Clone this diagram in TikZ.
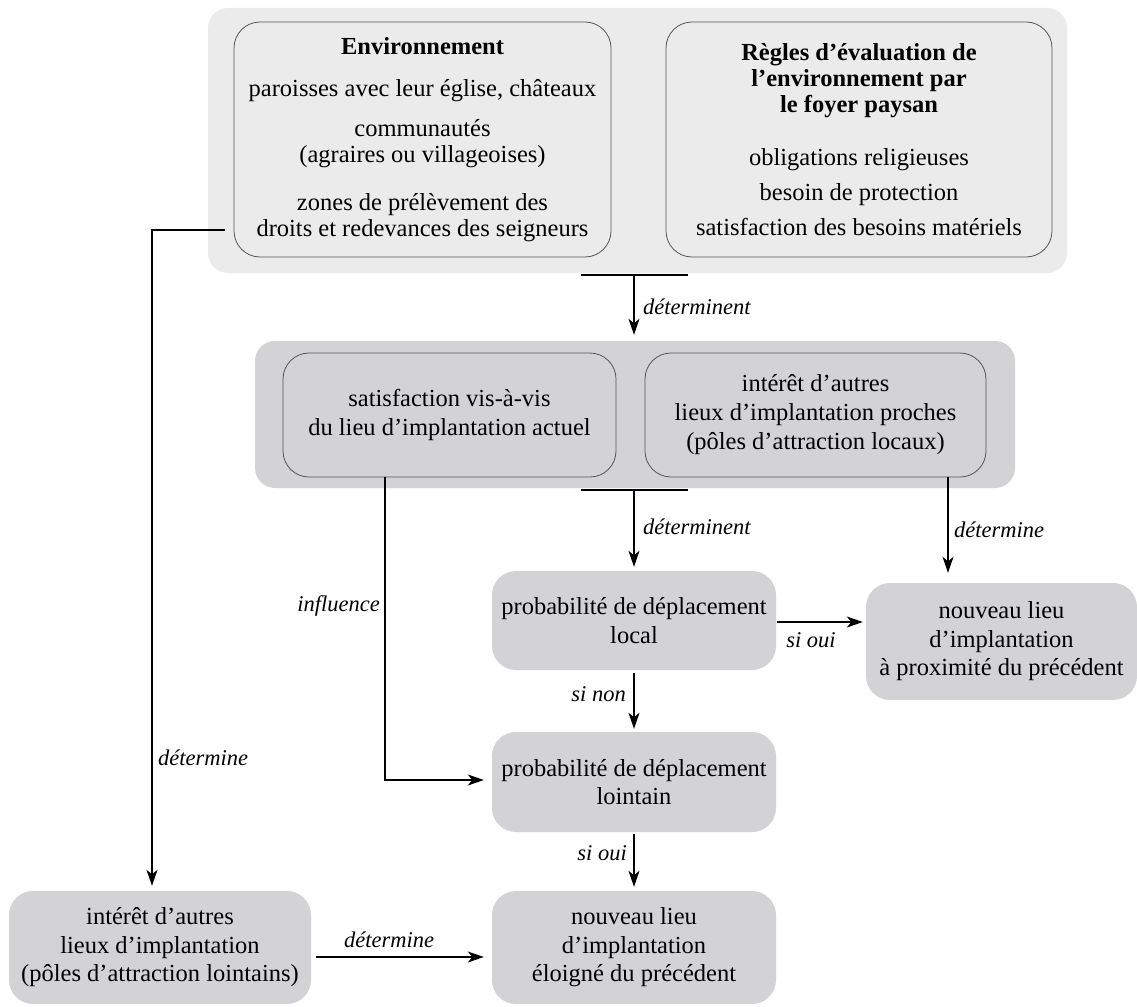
\documentclass[tikz,border=0pt]{standalone}
\usepackage{fontspec}
\setmainfont{Liberation Serif}
\usetikzlibrary{arrows.meta}
\definecolor{lightg}{HTML}{EBEBEB}
\definecolor{midg}{HTML}{D3D3D5}
\definecolor{bordc}{HTML}{555555}
\begin{document}
\begin{tikzpicture}[x=1pt,y=-1pt,
  grpbox/.style={fill=#1, draw=none, inner sep=0pt, rounded corners=20pt},
  inbox/.style={draw=bordc, line width=0.8pt, rounded corners=26pt, inner sep=0pt, align=center,
     font=\fontsize{24.5}{26}\selectfont},
  gbox/.style={fill=midg, rounded corners=24pt, inner sep=0pt, align=center,
     font=\fontsize{24.5}{28.5}\selectfont},
  arr/.style={-{Stealth[length=16pt,width=11pt,inset=4.5pt]}, line width=1.2pt},
  ln/.style={line width=1.2pt},
  lab/.style={font=\fontsize{22.5}{26}\selectfont\itshape, inner sep=0pt},
  sz/.style 2 args={minimum width=#1, minimum height=#2}]
\useasboundingbox (0,0) rectangle (1137,1006);

% groups
\node[grpbox=lightg, sz={859pt}{265pt}] (grp1) at (637.5,140.5) {};
\node[grpbox=midg, sz={760pt}{147pt}] (grp2) at (635,414.5) {};

% top inner boxes
\node[inbox, sz={377pt}{235pt}] (env) at (422.5,139.5)
  {\textbf{Environnement}\\[16pt]
   paroisses avec leur église, châteaux\\[14pt]
   communautés\\(agraires ou villageoises)\\[22pt]
   zones de prélèvement des\\droits et redevances des seigneurs};
\node[inbox, sz={386pt}{235pt}] (regles) at (859,139.5)
  {\textbf{Règles d’évaluation de}\\\textbf{l’environnement par}\\\textbf{le foyer paysan}\\[27pt]
   obligations religieuses\\[9pt]
   besoin de protection\\[9pt]
   satisfaction des besoins matériels};

% second row inner boxes
\node[inbox, font=\fontsize{24.5}{29}\selectfont, sz={333pt}{124pt}] (sat) at (449.5,415)
  {satisfaction vis-à-vis\\du lieu d’implantation actuel};
\node[inbox, font=\fontsize{24.5}{29}\selectfont, sz={341pt}{124pt}] (int) at (815.5,415)
  {intérêt d’autres\\lieux d’implantation proches\\(pôles d’attraction locaux)};

% lower boxes
\node[gbox, sz={284pt}{99pt}] (local) at (634,620.5) {probabilité de déplacement\\local};
\node[gbox, sz={271pt}{117pt}] (prox) at (1001.5,641.5) {nouveau lieu\\d’implantation\\à proximité du précédent};
\node[gbox, sz={284pt}{100pt}] (loin) at (634,782) {probabilité de déplacement\\lointain};
\node[gbox, sz={284pt}{113pt}] (eloigne) at (634,947.5) {nouveau lieu\\d’implantation\\éloigné du précédent};
\node[gbox, sz={302pt}{113pt}] (lointains) at (160,947.5) {intérêt d’autres\\lieux d’implantation\\(pôles d’attraction lointains)};

% bars
\coordinate (b1l) at (581,275); \coordinate (b1r) at (688,275); \coordinate (b1) at (634,275);
\coordinate (b2l) at (581,490); \coordinate (b2r) at (688,490); \coordinate (b2) at (634,490);
\draw[ln] (b1l) -- (b1r);
\draw[ln] (b2l) -- (b2r);

% connectors
\draw[arr, shorten >=6pt] (b1) -- (b1 |- grp2.north);
\node[lab, anchor=west] (l1) at (643,307) {déterminent};

\draw[arr, shorten >=4pt] (b2) -- (local.north);
\node[lab, anchor=west] (l2) at (643,527) {déterminent};

\coordinate (intout) at (948,477);
\draw[arr, shorten >=10pt] (intout) -- (intout |- prox.north);
\node[lab, anchor=west] (l3) at (954,530) {détermine};

\coordinate (satout) at (385,477);
\coordinate (satturn) at (385,780);
\draw[arr, shorten >=8pt] (satout) -- (satturn) -- (satturn -| loin.west);
\node[lab, anchor=east] (l4) at (380,606) {influence};

\coordinate (envout) at (225,230);
\coordinate (envturn) at (152,230);
\draw[arr, shorten >=5pt] (envout) -- (envturn) -- (envturn |- lointains.north);
\node[lab, anchor=west] (l5) at (158,758) {détermine};

\draw[arr, shorten <=3pt, shorten >=3pt] (local.south) -- (loin.north);
\node[lab, anchor=east] (l6) at (626,694) {si non};

\draw[arr, shorten <=2pt, shorten >=4pt] (loin.south) -- (eloigne.north);
\node[lab, anchor=east] (l7) at (627,853) {si oui};

\coordinate (locout) at (777,622);
\draw[arr, shorten >=3pt] (locout) -- (locout -| prox.west);
\node[lab] (l8) at (811,640) {si oui};

\coordinate (lointout) at (316,957);
\draw[arr, shorten >=8pt] (lointout) -- (lointout -| eloigne.west);
\node[lab] (l9) at (389,940) {détermine};
\end{tikzpicture}
\end{document}
